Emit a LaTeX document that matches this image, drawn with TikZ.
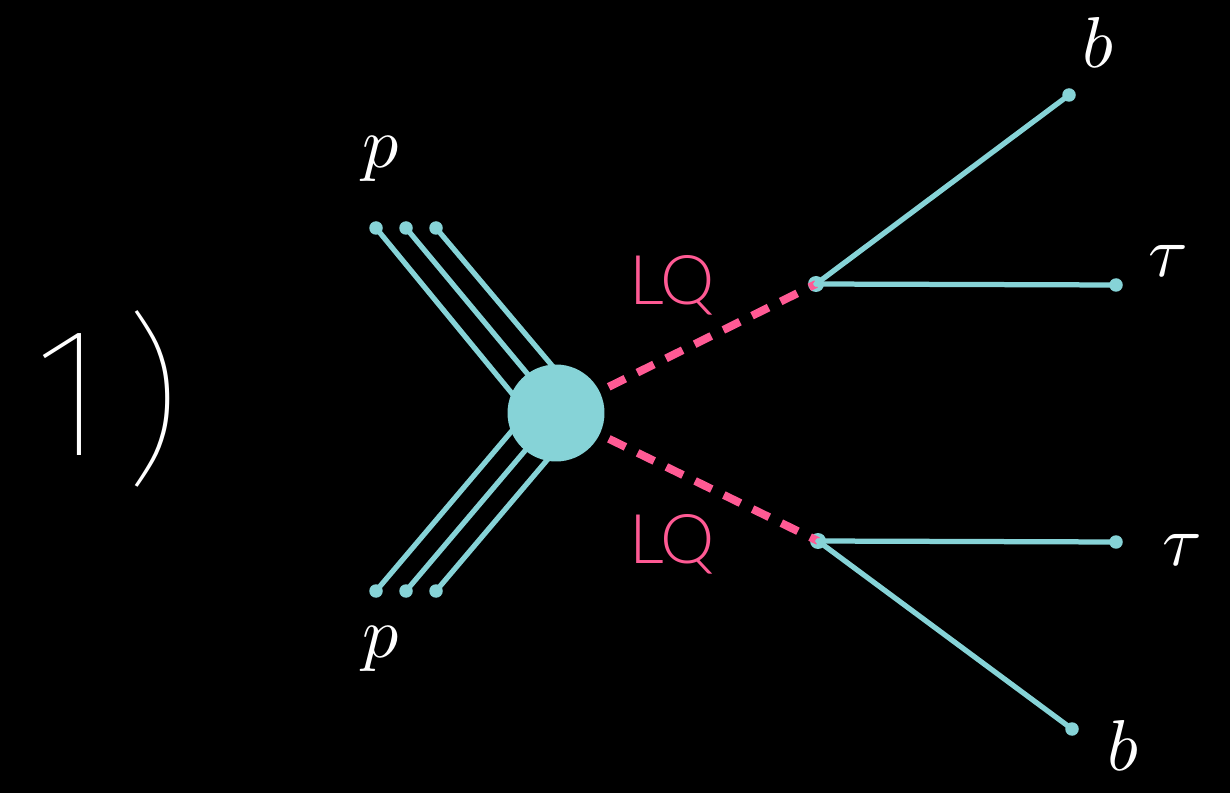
\documentclass[tikz,border=0pt]{standalone}
\usepackage{fontspec}
\usepackage{unicode-math}
\setmathfont{Latin Modern Math}
\newfontfamily\thinfont{Fira Sans Thin}
\newfontfamily\lqfont{Lato Light}
\definecolor{cy}{HTML}{86D3D7}
\definecolor{lqpink}{HTML}{FF5A94}
\begin{document}
\begin{tikzpicture}[x=0.02cm,y=-0.02cm,
  quark/.style={draw=cy, line width=0.105cm, line cap=round},
  enddot/.style={circle, fill=cy, inner sep=0pt, minimum size=0.27cm},
  vdot/.style={circle, fill=cy, inner sep=0pt, minimum size=0.32cm},
  lqline/.style={draw=lqpink, line width=0.16cm, dash pattern=on 0.37cm off 0.27cm},
  lbl/.style={text=white, font=\fontsize{41}{41}\selectfont, anchor=base, inner sep=0pt},
  lqlbl/.style={text=lqpink, font=\lqfont\fontsize{39}{39}\selectfont, anchor=base, inner sep=0pt},
  blobstyle/.style={circle, fill=cy, inner sep=0pt, minimum size=1.94cm}]
\fill[black] (0,0) rectangle (1230,793);
\useasboundingbox (0,0) rectangle (1230,793);

% incoming proton constituents
\node[enddot] (u1) at (376,228) {};
\node[enddot] (u2) at (406,228) {};
\node[enddot] (u3) at (436,228) {};
\node[enddot] (d1) at (376,591) {};
\node[enddot] (d2) at (406,591) {};
\node[enddot] (d3) at (436,591) {};
\coordinate (cu1) at (528,413);
\coordinate (cu2) at (560,413);
\coordinate (cu3) at (592,413);
\coordinate (cd1) at (527,413);
\coordinate (cd2) at (557,413);
\coordinate (cd3) at (587,413);
\draw[quark] (u1.center) -- (cu1);
\draw[quark] (u2.center) -- (cu2);
\draw[quark] (u3.center) -- (cu3);
\draw[quark] (d1.center) -- (cd1);
\draw[quark] (d2.center) -- (cd2);
\draw[quark] (d3.center) -- (cd3);

\node[blobstyle] (blob) at (556,413) {};

% decay vertices and outgoing particles
\node[vdot] (v1) at (816,284) {};
\node[vdot] (v2) at (818,541) {};
\node[enddot] (b1) at (1069,95) {};
\node[enddot] (t1) at (1116,285) {};
\node[enddot] (t2) at (1116,542) {};
\node[enddot] (b2) at (1072,729) {};

\draw[lqline, shorten <=0.2cm] (blob) -- (v1.center);
\draw[lqline, shorten <=0.2cm] (blob) -- (v2.center);

\draw[quark] (v1.center) -- (b1.center);
\draw[quark] (v1.center) -- (t1.center);
\draw[quark] (v2.center) -- (t2.center);
\draw[quark] (v2.center) -- (b2.center);

% labels
\node[lbl] (pu) at (381,168) {$p$};
\node[lbl] (pd) at (381,657) {$p$};
\node[lbl] (lb1) at (1098,68) {$b$};
\node[lbl] (lt1) at (1168,277) {$\tau$};
\node[lbl] (lt2) at (1182,565) {$\tau$};
\node[lbl] (lb2) at (1123,770) {$b$};
\node[lqlbl] (lq1) at (672,305) {LQ};
\node[lqlbl] (lq2) at (672,563) {LQ};
\node[text=white, font=\thinfont\fontsize{105}{105}\selectfont, anchor=base, inner sep=0pt] (num) at (108,456) {1\hspace{0.09em}\raisebox{-0.16cm}{)}};
\end{tikzpicture}
\end{document}
